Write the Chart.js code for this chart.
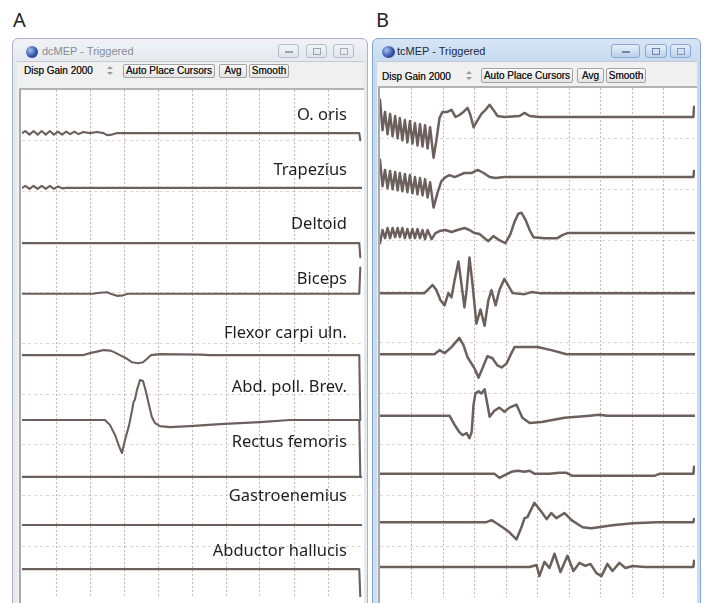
<!DOCTYPE html>
<html><head><meta charset="utf-8">
<script src="https://cdn.jsdelivr.net/npm/chart.js@4.4.1/dist/chart.umd.min.js"></script>
<style>
html,body{margin:0;padding:0;background:#fff;}
body{width:703px;height:603px;position:relative;overflow:hidden;font-family:"Liberation Sans",Arial,sans-serif;}
.a{position:absolute;box-sizing:border-box;}
.letter{position:absolute;top:6px;font:20px "Noto Sans",sans-serif;color:#222;}
.win{top:38px;height:575px;border-radius:6px 6px 0 0;}
#winA{left:12px;width:356px;border:1px solid #aab4c2;background:linear-gradient(#f0f2f6,#e4e9ef 24px,#e6eaf0);}
#winB{left:372px;width:329px;border:1px solid #86a6d2;background:linear-gradient(#d6e5f5,#c6d9f0 24px,#cddef2);}
.icon{width:12px;height:12px;border-radius:50%;background:radial-gradient(circle at 35% 35%,#a9c3f0,#3556b0 55%,#1c2b6a);}
.title{font-size:11px;white-space:nowrap;}
.cb{height:14px;border-radius:3px;}
.cbA{border:1px solid #b4bcc8;background:linear-gradient(#f3f5f8,#dfe4ea);}
.cbB{border:1px solid #8aa6cf;background:linear-gradient(#e6effa,#bcd0ea);}
.client{background:#f0f0f0;border-top:1px solid #c3cad3;}
.tb{font-size:10px;color:#1a1a1a;white-space:nowrap;text-shadow:0 0 0.6px #444;}
.btn{height:14px;border:1px solid #a3a3a3;border-radius:2px;background:linear-gradient(#fafafa,#e3e3e3);font-size:10px;line-height:12px;text-align:center;color:#1a1a1a;white-space:nowrap;text-shadow:0 0 0.6px #444;}
.spin{width:9px;height:14px;}
.up,.dn{position:absolute;left:1px;width:0;height:0;border-left:3px solid transparent;border-right:3px solid transparent;}
.up{top:2px;border-bottom:3px solid #9a9a9a;}
.dn{top:8px;border-top:3px solid #9a9a9a;}
.plot{background:#fff;}
.lab{position:absolute;font:16.5px "Noto Sans",sans-serif;color:#1e1e1e;white-space:nowrap;text-align:right;line-height:20px;}
canvas{position:absolute;}
</style></head>
<body>
<div class="letter" style="left:13px">A</div>
<div class="letter" style="left:376px">B</div>

<!-- Window A -->
<div id="winA" class="a win"></div>
<div class="a icon" style="left:26px;top:46px"></div>
<div class="a title" style="left:42px;top:45px;color:#868c97">dcMEP - Triggered</div>
<div class="a cb cbA" style="left:278px;top:44px;width:21px"><div class="a" style="left:6px;top:6px;width:8px;height:2px;background:#9aa3b0"></div></div>
<div class="a cb cbA" style="left:306px;top:44px;width:21px"><div class="a" style="left:6px;top:3px;width:8px;height:7px;border:1px solid #9aa3b0"></div></div>
<div class="a cb cbA" style="left:333px;top:44px;width:21px"><div class="a" style="left:6px;top:3px;width:8px;height:7px;border:1px solid #a7aeb9"></div></div>
<div class="a client" style="left:17px;top:61px;width:347px;height:542px"></div>
<div class="a tb" style="left:24px;top:65px">Disp Gain 2000</div>
<div class="a spin" style="left:106px;top:64px"><div class="up"></div><div class="dn"></div></div>
<div class="a btn" style="left:123px;top:64px;width:92px">Auto Place Cursors</div>
<div class="a btn" style="left:219px;top:64px;width:28px">Avg</div>
<div class="a btn" style="left:249px;top:64px;width:40px">Smooth</div>
<div class="a plot" style="left:19px;top:88px;width:345px;height:515px;border-left:2px solid #a9a9a9;border-top:2px solid #b3b3b3"></div>
<canvas id="cA" width="340" height="507" style="left:22px;top:90px"></canvas>

<!-- Window B -->
<div id="winB" class="a win"></div>
<div class="a icon" style="left:382px;top:46px;width:13px"></div>
<div class="a title" style="left:397px;top:45px;color:#1d2a3c">tcMEP - Triggered</div>
<div class="a cb cbB" style="left:611px;top:44px;width:29px"><div class="a" style="left:10px;top:6px;width:8px;height:2px;background:#6d86ad"></div></div>
<div class="a cb cbB" style="left:645px;top:44px;width:22px"><div class="a" style="left:6px;top:3px;width:8px;height:7px;border:1px solid #6d86ad"></div></div>
<div class="a cb cbB" style="left:670px;top:44px;width:21px"><div class="a" style="left:6px;top:3px;width:8px;height:7px;border:1px solid #8199bd"></div></div>
<div class="a client" style="left:377px;top:61px;width:320px;height:542px"></div>
<div class="a tb" style="left:382px;top:71px">Disp Gain 2000</div>
<div class="a spin" style="left:465px;top:69px"><div class="up"></div><div class="dn"></div></div>
<div class="a btn" style="left:481px;top:68px;width:92px;height:15px;line-height:13px">Auto Place Cursors</div>
<div class="a btn" style="left:577px;top:68px;width:27px;height:15px;line-height:13px">Avg</div>
<div class="a btn" style="left:606px;top:68px;width:40px;height:15px;line-height:13px">Smooth</div>
<div class="a plot" style="left:378px;top:86px;width:319px;height:517px;border-left:2px solid #a9a9a9;border-top:2px solid #b3b3b3"></div>
<canvas id="cB" width="315" height="509" style="left:380px;top:88px"></canvas>

<script>
// ---- axes: time (ms) and amplitude (uV), 10 divisions each ----
const timeRange = [0, 100];
const timeStep = 10;
const ampRange = [0, 1000];
const ampStep = 100;

// ---- channel names (panel A labels) ----
const channels = ["O. oris","Trapezius","Deltoid","Biceps","Flexor carpi uln.","Abd. poll. Brev.","Rectus femoris","Gastroenemius","Abductor hallucis"];

// ---- channel baseline levels (uV on the stacked amplitude axis) ----
const levelsA = [915, 807, 698, 598, 477, 349, 237, 142, 55];
const levelsB = [943, 825, 715, 597, 477, 356, 242, 147, 59];

// ---- Panel A (dcMEP) traces: [time ms, amplitude uV] ----
const dcOris = [[0,0],[1,4],[2.2,-3],[3.4,4],[4.6,-3],[5.8,4],[7,-3],[8.2,4],[9.4,-3],[10.6,3],[11.8,-3],[13,3],[14.2,-2],[15.4,3],[16.6,-2],[18,2],[20,0],[22,2],[24,0],[25,-4],[26.5,-3],[28,0],[99.2,0],[99.5,-14]];
const dcTrapezius = [[0,0],[1,4],[2.2,-2],[3.4,4],[4.6,-2],[5.8,4],[7,-2],[8.2,4],[9.4,-2],[10.6,3],[11.8,-1],[13,0],[100,0]];
const dcDeltoid = [[0,0],[99.2,0],[99.5,-28]];
const dcBiceps = [[0,0],[20.9,0],[22.9,2],[25,3],[26.5,-1],[27.9,-4],[29.7,-3],[31.2,0],[99.2,0],[99.5,52]];
const dcFlexor = [[0,0],[17.9,0],[20,4],[22,7],[24.1,10],[25.9,9],[27.1,6],[28.8,0],[30.6,-6],[32.4,-14],[34.1,-16],[35.6,-14],[36.8,-7],[37.9,0],[40.6,2],[52.4,1],[55.3,0],[99.2,0],[99.5,-128]];
const dcAbdPoll = [[0,0],[24.4,0],[25.9,-10],[27.4,-30],[28.5,-51],[29.4,-65],[30.3,-39],[31.5,-10],[32.4,20],[32.8,36],[33.2,40],[33.8,59],[34.7,79],[35.6,77],[36.5,55],[37.4,28],[38.2,6],[39.1,-6],[40.6,-12],[43.5,-14],[49.4,-12],[58.2,-8],[70,-4],[78.8,0],[99.2,0],[99.5,-112]];
const dcRectus = [[0,0],[100,0]];
const dcGastro = [[0,0],[100,0]];
const dcAbdHall = [[0,0],[99.2,0],[99.5,-56]];

// ---- Panel B (tcMEP) traces: [time ms, amplitude uV] ----
const tcOris = [[0,34],[0.8,-26],[1.6,10],[2.4,-34],[3.2,6],[4,-38],[4.8,2],[5.6,-42],[6.3,-2],[7.1,-46],[7.9,-6],[8.7,-50],[9.5,-8],[10.3,-52],[11.1,-12],[11.9,-56],[12.7,-14],[13.5,-58],[14.3,-16],[15.1,-62],[15.9,-20],[17,-80],[17.9,-46],[18.9,-2],[19.8,10],[21.4,10],[22.7,14],[24,0],[25.2,4],[26.5,10],[27.8,18],[28.7,4],[29.7,-20],[31,-6],[32.2,6],[33.5,14],[34.8,24],[36,14],[37.3,2],[39.5,0],[44.3,2],[45.9,8],[47.5,2],[50.6,0],[99.5,0],[99.7,20]];
const tcTrapezius = [[0,34],[0.8,-18],[1.6,14],[2.4,-22],[3.2,12],[4,-24],[4.8,10],[5.6,-26],[6.3,8],[7.1,-28],[7.9,6],[8.7,-30],[9.5,4],[10.3,-32],[11.1,0],[11.9,-34],[12.7,-2],[13.5,-36],[14.3,-4],[15.1,-40],[15.9,-10],[17,-60],[18.3,-30],[19.5,-8],[20.8,0],[22.1,4],[23.7,0],[25.2,4],[26.8,8],[29,8],[31,14],[32.9,8],[34.8,0],[36.7,-2],[39.5,0],[99.5,0],[99.7,12]];
const tcDeltoid = [[0,-20],[0.8,6],[1.6,-10],[2.4,10],[3.2,-10],[4,10],[4.8,-8],[5.6,10],[6.3,-8],[7.1,10],[7.9,-10],[8.7,8],[9.5,-10],[10.3,8],[11.1,-10],[11.9,8],[12.7,-10],[13.5,6],[14.3,-12],[15.1,6],[16.4,-12],[17.6,0],[18.9,4],[20.8,6],[22.7,2],[24.6,6],[26.8,10],[28.4,6],[30,0],[31.6,-2],[33.2,-10],[34.4,-16],[36,-6],[37.9,-14],[39.8,-20],[41.4,-2],[42.7,22],[43.9,38],[44.9,40],[46.2,26],[47.5,6],[48.7,-8],[52.2,-10],[56.3,-10],[57.9,-4],[59.5,0],[100,0]];
const tcBiceps = [[0,0],[14.1,0],[15.4,8],[16.7,16],[17.9,6],[19.2,-14],[20.5,-24],[21.7,0],[22.7,-8],[23.7,26],[24.9,62],[25.9,16],[26.8,-28],[27.5,6],[28.4,70],[29.4,16],[30.6,-60],[31.9,-32],[33.2,-64],[34.4,-14],[35.4,6],[36.7,-24],[37.9,6],[39.5,28],[40.8,14],[42.1,0],[45.9,-2],[48.1,2],[50.6,0],[100,0]];
const tcFlexor = [[0,0],[17.3,0],[18.9,8],[20.5,2],[22.7,14],[25.2,32],[26.5,18],[27.8,-6],[30,-28],[31.3,-46],[32.5,-28],[34.1,-4],[35.7,-8],[37.3,-22],[38.6,-26],[40.2,-18],[41.4,-2],[42.7,14],[50,14],[54.4,8],[59.2,0],[100,0]];
const tcAbdPoll = [[0,0],[22.1,0],[23.7,-18],[25.2,-32],[26.2,-38],[27.5,-34],[28.4,-44],[29.1,-32],[29.7,22],[30.3,44],[31.3,48],[32.2,44],[33.2,52],[34.1,22],[34.8,-2],[36.3,10],[37.9,16],[39.5,8],[41.1,16],[43.3,22],[45.2,-4],[47.5,-14],[51.3,-12],[58.6,-4],[66.5,0],[69.7,2],[72,0],[100,0]];
const tcRectus = [[0,0],[36.4,0],[37.9,-8],[39.8,-2],[41.7,4],[43.7,6],[45.9,4],[47.5,6],[49.1,0],[53.8,0],[57,2],[59.2,2],[61.1,-4],[87.1,-4],[88.7,0],[99.5,0],[99.7,14]];
const tcGastro = [[0,0],[33.8,0],[35.4,4],[37,-2],[38.9,-10],[41.1,-20],[43.3,-34],[44.9,-10],[45.9,8],[46.8,10],[49,38],[51.3,20],[52.9,6],[54.4,18],[56,8],[58.6,18],[60.8,4],[64.3,-10],[67.1,-12],[73.8,-6],[80.2,-2],[87.8,0],[99.5,0],[99.7,6]];
const tcAbdHall = [[0,0],[47.5,0],[49.7,4],[50.6,-18],[52.2,10],[53.8,-2],[55.4,26],[57.3,-10],[59.5,22],[61.4,-8],[63.3,8],[65.2,2],[66.8,6],[68.7,-12],[70.3,-18],[72.2,6],[73.8,-8],[76,8],[77.9,-2],[80.2,2],[84,0],[99.5,0],[99.7,12]];

const tracesA = [dcOris, dcTrapezius, dcDeltoid, dcBiceps, dcFlexor, dcAbdPoll, dcRectus, dcGastro, dcAbdHall];
const tracesB = [tcOris, tcTrapezius, tcDeltoid, tcBiceps, tcFlexor, tcAbdPoll, tcRectus, tcGastro, tcAbdHall];

const traceColor = '#6c605d';
const gridColorX = 'rgba(165,135,135,0.6)';
const gridColorY = 'rgba(190,160,160,0.45)';

function gridCol(min, max, col) {
  return ctx => (ctx.tick && (ctx.tick.value <= min || ctx.tick.value >= max)) ? 'rgba(0,0,0,0)' : col;
}

function makeChart(id, traces, levels, width) {
  const datasets = traces.map((tr, i) => ({
    label: channels[i],
    data: tr.map(p => ({x: p[0], y: p[1] + levels[i]})),
    borderColor: traceColor,
    borderWidth: width,
    pointRadius: 0,
    tension: 0,
    fill: false,
    borderJoinStyle: 'round',
    borderCapStyle: 'round'
  }));
  return new Chart(document.getElementById(id), {
    type: 'line',
    data: {datasets},
    options: {
      responsive: false,
      animation: false,
      devicePixelRatio: 1,
      layout: {padding: 0},
      plugins: {legend: {display: false}, tooltip: {enabled: false}},
      scales: {
        x: {type: 'linear', min: timeRange[0], max: timeRange[1],
            ticks: {display: false, stepSize: timeStep},
            grid: {color: gridCol(timeRange[0], timeRange[1], gridColorX), lineWidth: 1, drawTicks: false},
            border: {display: false, dash: [2, 2]}},
        y: {type: 'linear', min: ampRange[0], max: ampRange[1],
            ticks: {display: false, stepSize: ampStep},
            grid: {color: gridCol(ampRange[0], ampRange[1], gridColorY), lineWidth: 1, drawTicks: false},
            border: {display: false, dash: [3, 3]}}
      }
    }
  });
}

makeChart('cA', tracesA, levelsA, 2.1);
makeChart('cB', tracesB, levelsB, 2.5);

// channel labels in panel A
channels.forEach((name, i) => {
  const d = document.createElement('div');
  d.className = 'lab';
  d.textContent = name;
  d.style.right = (703 - 347) + 'px';
  d.style.top = (104.3 + 54.4 * i) + 'px';
  document.body.appendChild(d);
});
</script>
</body></html>
